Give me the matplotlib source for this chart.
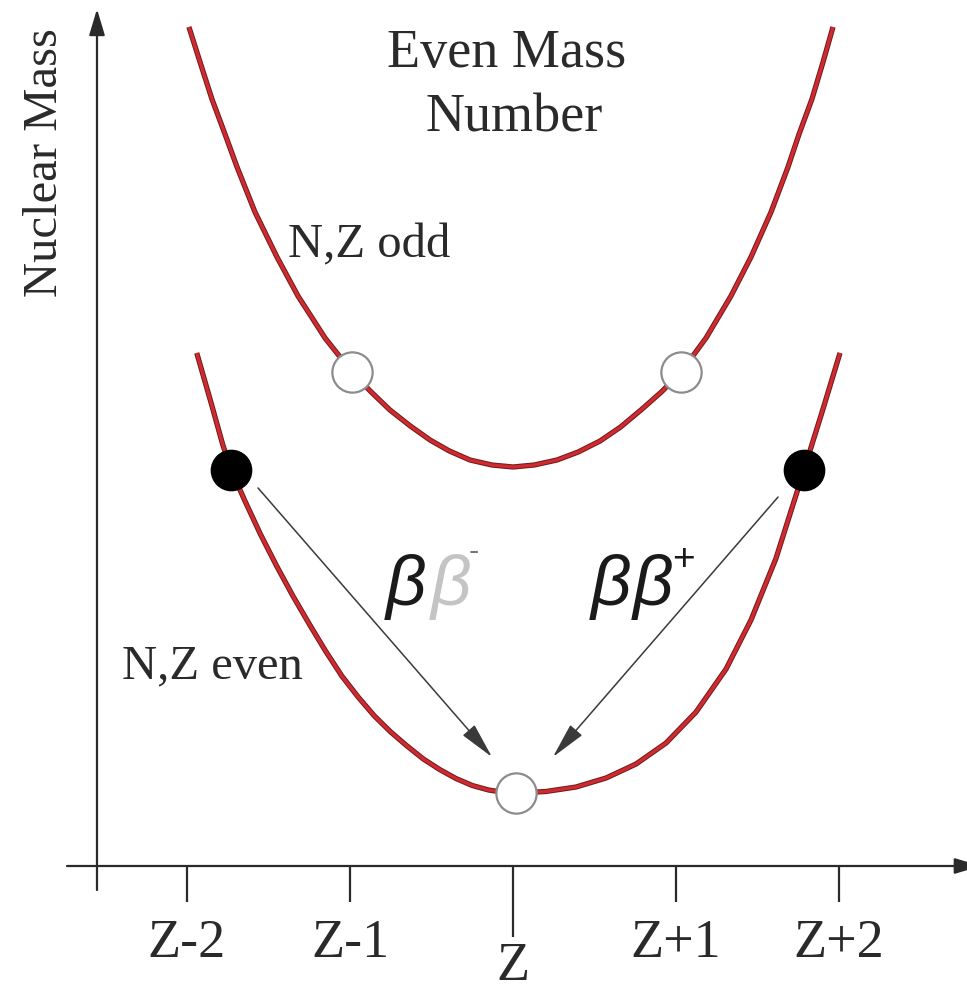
import matplotlib
matplotlib.use('Agg')
import matplotlib.pyplot as plt

# Z offset (in units of charge) and nuclear mass (arbitrary units)
odd_z = [-1.988, -1.920, -1.847, -1.767, -1.693, -1.583, -1.448, -1.319, -1.153, -0.988,
         -0.870, -0.755, -0.630, -0.509, -0.390, -0.264, -0.130, 0.0, 0.130, 0.270,
         0.400, 0.534, 0.660, 0.785, 0.910, 1.031, 1.184, 1.337, 1.460, 1.583,
         1.687, 1.755, 1.834, 1.902, 1.963]
odd_mass = [8.38, 8.03, 7.66, 7.31, 6.98, 6.53, 6.08, 5.69, 5.27, 4.93,
            4.73, 4.55, 4.39, 4.25, 4.14, 4.05, 4.00, 3.98, 4.00, 4.05,
            4.13, 4.24, 4.38, 4.55, 4.73, 4.93, 5.27, 5.69, 6.08, 6.53,
            6.98, 7.31, 7.66, 8.03, 8.38]

even_z = [-1.94, -1.85, -1.78, -1.728, -1.65, -1.55, -1.45, -1.35, -1.25, -1.15,
          -1.05, -0.95, -0.85, -0.75, -0.65, -0.55, -0.45, -0.35, -0.25, -0.15,
          -0.05, 0.018, 0.202, 0.387, 0.571, 0.755, 0.939, 1.123, 1.307, 1.460,
          1.613, 1.785, 1.896, 2.006]
even_mass = [5.12, 4.61, 4.20, 3.95, 3.66, 3.31, 2.99, 2.69, 2.41, 2.14,
             1.89, 1.68, 1.49, 1.33, 1.19, 1.06, 0.955, 0.865, 0.795, 0.75,
             0.725, 0.72, 0.735, 0.78, 0.87, 1.01, 1.22, 1.53, 1.96, 2.45,
             3.065, 3.95, 4.53, 5.12]

# nuclei drawn on the curves
odd_nuclei_z = [-0.988, 1.031]
odd_nuclei_mass = [4.93, 4.93]
parent_z = [-1.728, 1.785]
parent_mass = [3.95, 3.95]
daughter_z = [0.018]
daughter_mass = [0.72]

tick_pos = [-2, -1, 0, 1, 2]
tick_labels = ['Z-2', 'Z-1', 'Z', 'Z+1', 'Z+2']

serif = 'Liberation Serif'
ink = '#2a2a2a'

fig = plt.figure(figsize=(9.67, 9.92), dpi=100)
ax = fig.add_axes([0, 0, 1, 1])
ax.set_xlim(-3.147, 2.785)
ax.set_ylim(-1.27, 8.65)
ax.axis('off')

# axes with arrows
axis_arrow = dict(arrowstyle='-|>,head_length=1.0,head_width=0.3', color=ink, lw=1.6,
                  shrinkA=0, shrinkB=0, mutation_scale=16)
ax.annotate('', xy=(-2.552, 8.56), xytext=(-2.552, -0.25), arrowprops=axis_arrow,
            annotation_clip=False)
ax.annotate('', xy=(2.87, -0.01), xytext=(-2.736, -0.01), arrowprops=axis_arrow,
            annotation_clip=False)

for pos, lab in zip(tick_pos, tick_labels):
    if lab == 'Z':
        low, base = -0.72, -1.15
    else:
        low, base = -0.37, -0.92
    ax.plot([pos, pos], [-0.01, low], color=ink, lw=1.6, solid_capstyle='butt')
    ax.text(pos, base, lab, ha='center', va='baseline', fontsize=39,
            family=serif, color=ink)

# mass parabolas: dark rim under a red core
for zs, ms in [(odd_z, odd_mass), (even_z, even_mass)]:
    ax.plot(zs, ms, color='#6e1a1c', lw=3.8, solid_capstyle='butt', zorder=2)
    ax.plot(zs, ms, color='#cf2a2f', lw=2.4, solid_capstyle='butt', zorder=3)

ax.plot(odd_nuclei_z, odd_nuclei_mass, 'o', ms=29, mfc='white', mec='#8c8c8c', mew=1.6, zorder=5)
ax.plot(daughter_z, daughter_mass, 'o', ms=29, mfc='white', mec='#8c8c8c', mew=1.6, zorder=5)
ax.plot(parent_z, parent_mass, 'o', ms=29, mfc='black', mec='black', zorder=5)

# double beta decay arrows
arrow_style = dict(arrowstyle='-|>,head_length=1.6,head_width=0.35', color='#3a3a3a',
                   lw=1.1, shrinkA=0, shrinkB=0, mutation_scale=14)
ax.annotate('', xy=(-0.129, 1.08), xytext=(-1.564, 3.77), arrowprops=arrow_style)
ax.annotate('', xy=(0.245, 1.08), xytext=(1.626, 3.68), arrowprops=arrow_style)

greek = dict(family='Liberation Sans', style='italic', fontsize=51)
ax.text(-0.780, 2.60, 'β', color='#1a1a1a', ha='left', va='baseline', **greek)
ax.text(-0.505, 2.60, 'β', color='#c4c4c4', ha='left', va='baseline', **greek)
ax.text(-0.270, 3.05, '-', color='#777777', ha='left', va='baseline',
        family='Liberation Sans', fontsize=22)
ax.text(0.475, 2.60, 'β', color='#1a1a1a', ha='left', va='baseline', **greek)
ax.text(0.735, 2.60, 'β', color='#1a1a1a', ha='left', va='baseline', **greek)
ax.text(1.043, 3.05, '+', color='#1a1a1a', ha='center', va='center',
        family='Liberation Sans', fontsize=28)

# labels
ax.text(-0.037, 7.98, 'Even Mass', ha='center', va='baseline', fontsize=39, family=serif, color=ink)
ax.text(0.006, 7.33, 'Number', ha='center', va='baseline', fontsize=39, family=serif, color=ink)
ax.text(-1.380, 6.08, 'N,Z odd', ha='left', va='baseline', fontsize=35, family=serif, color=ink)
ax.text(-2.399, 1.87, 'N,Z even', ha='left', va='baseline', fontsize=35, family=serif, color=ink)
ax.text(-2.870, 7.02, 'Nuclear Mass', rotation=90, ha='center', va='center',
        fontsize=35, family=serif, color=ink)

fig.savefig('out.png', dpi=100)
